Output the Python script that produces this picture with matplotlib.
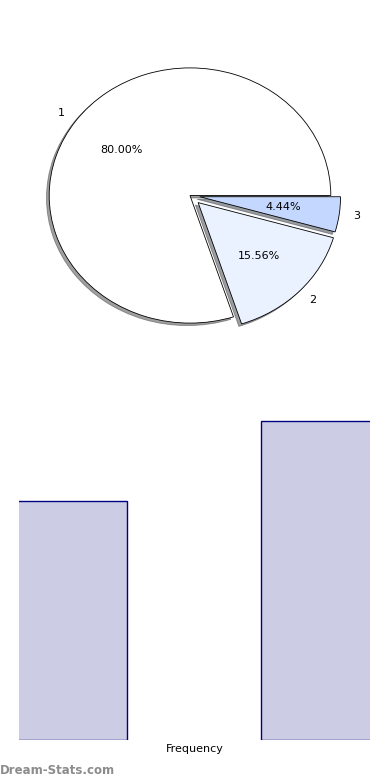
import matplotlib
matplotlib.use("Agg")
import matplotlib.pyplot as plt

# Data
pie_labels = ["1", "2", "3"]
pie_counts = [36, 7, 2]
pie_colors = ["#ffffff", "#eaf1ff", "#c4d8ff"]
pie_explode = [0, 0.08, 0.07]

bar_positions = [0, 1]
bar_heights = [30, 40]

fig = plt.figure(figsize=(3.9, 7.8), dpi=100)
W, H = 390, 780

# Pie axes (pixel coords -> figure fraction)
ax1 = fig.add_axes([14 / W, 1 - 355 / H, 352 / W, 319 / H])
wedges, texts, autotexts = ax1.pie(
    pie_counts, labels=pie_labels, colors=pie_colors, explode=pie_explode,
    autopct="%1.2f%%", shadow={"ox": -0.014, "oy": -0.014, "shade": 0.75},
    startangle=0,
    wedgeprops=dict(edgecolor="black", linewidth=0.6),
    textprops=dict(fontsize=8),
)
ax1.set_aspect("auto")
ax1.set_xlim(-1.25, 1.25)
ax1.set_ylim(-1.25, 1.25)

# Bar axes
ax2 = fig.add_axes([19 / W, 1 - 740 / H, 351 / W, 335 / H])
ax2.bar(bar_positions, bar_heights, width=0.5, color="#ccccE4",
        edgecolor="#000080", linewidth=1.0)
ax2.set_xlim(-0.153, 1.157)
ax2.set_ylim(0, 42)
ax2.set_xticks([])
ax2.set_yticks([])
for s in ax2.spines.values():
    s.set_visible(False)
ax2.set_xlabel("Frequency", fontsize=8, labelpad=3)

fig.text(0.0, 6 / H, "Dream-Stats.com", fontsize=8.5, color="#8c8c8c",
         fontweight="semibold", ha="left", va="baseline")

fig.savefig("out.png", dpi=100)
